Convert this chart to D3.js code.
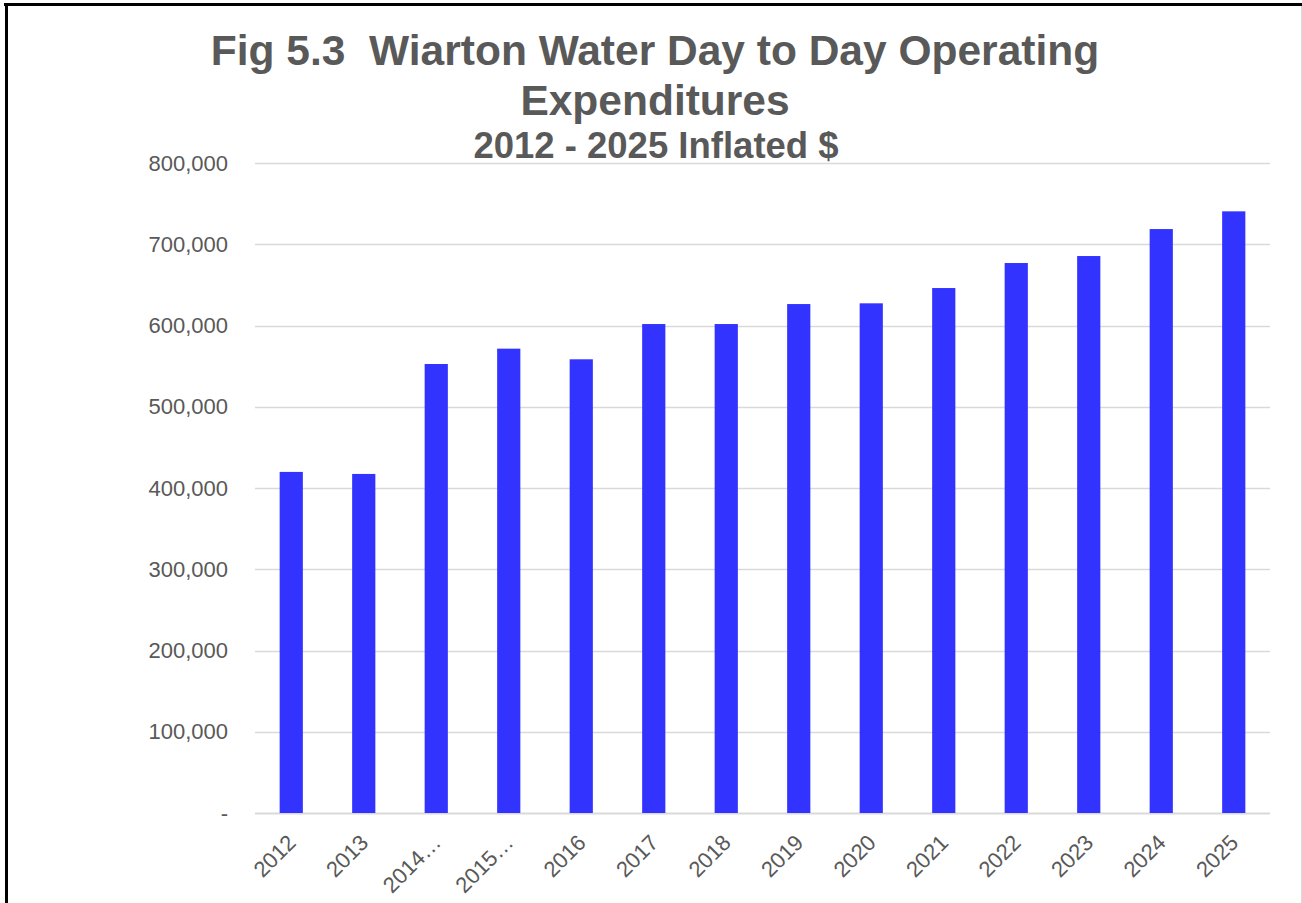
<!DOCTYPE html>
<html>
<head>
<meta charset="utf-8">
<script src="https://cdn.jsdelivr.net/npm/d3@7"></script>
<style>
  body { margin: 0; background: #fff; }
  text { font-family: "Liberation Sans", Arial, sans-serif; fill: #595959; }
</style>
</head>
<body>
<div id="chart"></div>
<script>
// values
var years = ["2012", "2013", "2014…", "2015…", "2016", "2017", "2018", "2019", "2020", "2021", "2022", "2023", "2024", "2025"];
var spending = [419800, 417300, 552600, 571500, 558400, 601800, 601800, 626400, 627300, 646100, 676900, 685500, 718700, 740500];
var yTicks = [0, 100000, 200000, 300000, 400000, 500000, 600000, 700000, 800000];
var titleLines = ["Fig 5.3  Wiarton Water Day to Day Operating", "Expenditures"];
var subTitle = "2012 - 2025 Inflated $";

var width = 1302, height = 903;
var margin = {left: 255, right: 32, top: 163, bottom: 90};

var svg = d3.select("#chart").append("svg").attr("width", width).attr("height", height);

// chart frame
svg.append("line").attr("x1", 4).attr("x2", 1302).attr("y1", 4.5).attr("y2", 4.5).attr("stroke", "#000").attr("stroke-width", 3);
svg.append("line").attr("x1", 6.5).attr("x2", 6.5).attr("y1", 3).attr("y2", 903).attr("stroke", "#000").attr("stroke-width", 3);
svg.append("line").attr("x1", 1301.5).attr("x2", 1301.5).attr("y1", 6).attr("y2", 903).attr("stroke", "#d9d9d9").attr("stroke-width", 1);

var x = d3.scaleBand().domain(years).range([margin.left, width - margin.right]).paddingInner(0.68).paddingOuter(0.34);
var y = d3.scaleLinear().domain([0, 800000]).range([height - margin.bottom, margin.top]);

// gridlines
svg.append("g").selectAll("line").data(yTicks).enter().append("line")
  .attr("x1", margin.left).attr("x2", width - margin.right)
  .attr("y1", function(d){ return Math.round(y(d)) + 0.5; })
  .attr("y2", function(d){ return Math.round(y(d)) + 0.5; })
  .attr("stroke", "#d9d9d9").attr("stroke-width", function(d){ return d == 0 ? 2 : 1.3; });

// y axis labels
var yAxis = d3.axisLeft(y).tickValues(yTicks).tickSize(0).tickPadding(27)
  .tickFormat(function(d){ return d == 0 ? "-" : d3.format(",")(d); });
var gy = svg.append("g").attr("transform", "translate(" + margin.left + ",0)").call(yAxis);
gy.select(".domain").remove();
gy.selectAll("text").style("font-size", "22px").style("font-family", "Liberation Sans, Arial, sans-serif").attr("fill", "#595959");

// bars
svg.append("g").selectAll("rect").data(spending).enter().append("rect")
  .attr("x", function(d, i){ return x(years[i]); })
  .attr("width", x.bandwidth())
  .attr("y", function(d){ return y(d); })
  .attr("height", function(d){ return y(0) - y(d); })
  .attr("fill", "#3333ff");

// x axis labels
var xAxis = d3.axisBottom(x).tickSize(0).tickPadding(0);
var gx = svg.append("g").attr("transform", "translate(0," + (height - margin.bottom) + ")").call(xAxis);
gx.select(".domain").remove();
gx.selectAll("text")
  .style("font-size", "22px").style("font-family", "Liberation Sans, Arial, sans-serif").attr("fill", "#595959")
  .attr("text-anchor", "end").attr("dy", null).attr("y", 0)
  .attr("transform", "translate(6,31) rotate(-45)");

// titles
svg.append("g").selectAll("text").data(titleLines).enter().append("text")
  .attr("x", 655).attr("y", function(d, i){ return 65 + i * 50; })
  .attr("text-anchor", "middle").style("font-size", "42.5px").style("font-weight", "bold")
  .style("white-space", "pre")
  .text(function(d){ return d; });
svg.append("text").attr("x", 656).attr("y", 158).attr("text-anchor", "middle")
  .style("font-size", "36.5px").style("font-weight", "bold").text(subTitle);
</script>
</body>
</html>
